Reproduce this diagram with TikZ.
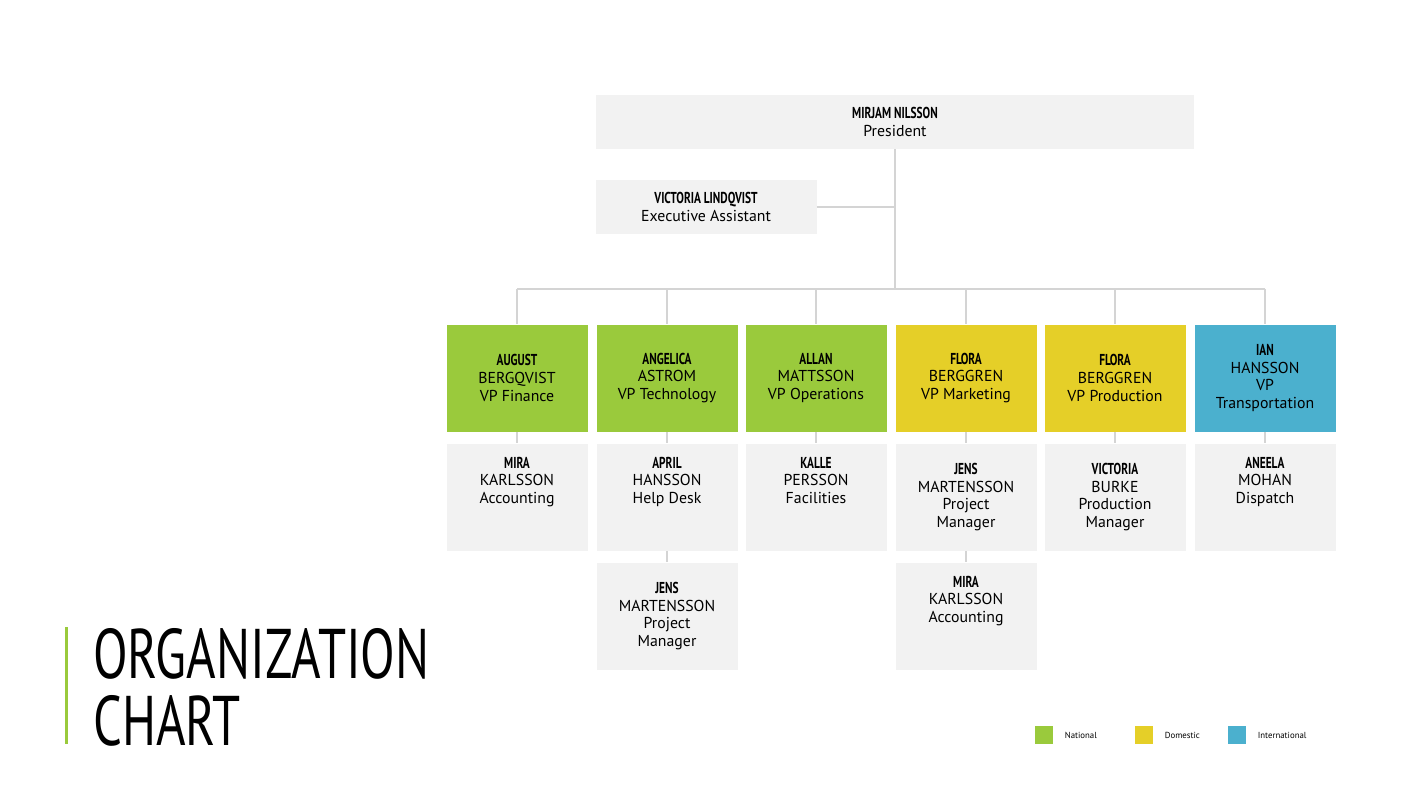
\documentclass[tikz,border=0pt]{standalone}
\usepackage{fontspec}
\setmainfont{PT Sans}
\newfontfamily\titlefont[FakeStretch=0.72]{PT Sans}
\usetikzlibrary{positioning}
\definecolor{natgreen}{HTML}{9ACA3C}
\definecolor{domyellow}{HTML}{E5CF28}
\definecolor{intblue}{HTML}{4BB0CE}
\definecolor{boxgrey}{HTML}{F2F2F2}
\definecolor{linegrey}{HTML}{D4D4D4}
\tikzset{
  card/.style={rectangle, fill=boxgrey, minimum width=141*0.02cm, minimum height=107*0.02cm,
    align=center, inner sep=2pt, font=\fontsize{9}{10}\selectfont},
  vpnat/.style={card, fill=natgreen},
  vpdom/.style={card, fill=domyellow},
  vpint/.style={card, fill=intblue},
  link/.style={draw=linegrey, line width=0.8pt},
  legend/.style={rectangle, minimum size=18*0.02cm, inner sep=0pt}
}
\newcommand{\nm}[1]{\titlefont\bfseries #1\\\normalfont}
\begin{document}
\begin{tikzpicture}[x=0.02cm, y=-0.02cm]
\useasboundingbox (0,0) rectangle (1422,800);
% top level
\node[card, minimum width=598*0.02cm, minimum height=54*0.02cm] (pres) at (895,122) {\nm{MIRJAM NILSSON}President};
\node[card, minimum width=221*0.02cm, minimum height=54*0.02cm] (asst) at (706,207) {\nm{VICTORIA LINDQVIST}Executive Assistant};
\coordinate (hub) at (895,289);
% vice presidents
\node[vpnat] (vp1) at (517,378) {\nm{AUGUST\\BERGQVIST}VP Finance};
\node[vpnat] (vp2) at (667,378) {\nm{ANGELICA\\ASTROM}VP Technology};
\node[vpnat] (vp3) at (816,378) {\nm{ALLAN\\MATTSSON}VP Operations};
\node[vpdom] (vp4) at (966,378) {\nm{FLORA\\BERGGREN}VP Marketing};
\node[vpdom] (vp5) at (1115,378) {\nm{FLORA\\BERGGREN}VP Production};
\node[vpint] (vp6) at (1265,378) {\nm{IAN\\HANSSON}VP\\Transportation};
% staff
\node[card] (s1) at (517,497) {\nm{MIRA\\KARLSSON}Accounting\\[9pt]};
\node[card] (s2) at (667,497) {\nm{APRIL\\HANSSON}Help Desk\\[9pt]};
\node[card] (s3) at (816,497) {\nm{KALLE\\PERSSON}Facilities\\[9pt]};
\node[card] (s4) at (966,497) {\nm{JENS\\MARTENSSON}Project\\Manager};
\node[card] (s5) at (1115,497) {\nm{VICTORIA\\BURKE}Production\\Manager};
\node[card] (s6) at (1265,497) {\nm{ANEELA\\MOHAN}Dispatch\\[9pt]};
\node[card] (t2) at (667,616) {\nm{JENS\\MARTENSSON}Project\\Manager};
\node[card] (t4) at (966,616) {\nm{MIRA\\KARLSSON}Accounting\\[9pt]};
% connectors
\draw[link] (pres.south) -- (hub);
\draw[link] (asst.east) -- (asst.east -| hub);
\draw[link] (vp1.north |- hub) -- (vp6.north |- hub);
\foreach \v in {vp1,vp2,vp3,vp4,vp5,vp6}
  \draw[link] (\v.north |- hub) -- (\v.north);
\foreach \a/\b in {vp1/s1,vp2/s2,vp3/s3,vp4/s4,vp5/s5,vp6/s6,s2/t2,s4/t4}
  \draw[link] (\a.south) -- (\b.north);
% title
\fill[natgreen] (65,627) rectangle (68,744);
\node[anchor=north west, align=left, inner sep=0pt, font=\titlefont\fontsize{40}{38}\selectfont] (title) at (93,628) {ORGANIZATION\\CHART};
% legend
\node[legend, fill=natgreen] (lg1) at (1044,735) {};
\node[legend, fill=domyellow] (lg2) at (1144,735) {};
\node[legend, fill=intblue] (lg3) at (1237,735) {};
\node[right=3pt of lg1, font=\fontsize{5}{6}\selectfont] {National};
\node[right=3pt of lg2, font=\fontsize{5}{6}\selectfont] {Domestic};
\node[right=3pt of lg3, font=\fontsize{5}{6}\selectfont] {International};
\end{tikzpicture}
\end{document}
